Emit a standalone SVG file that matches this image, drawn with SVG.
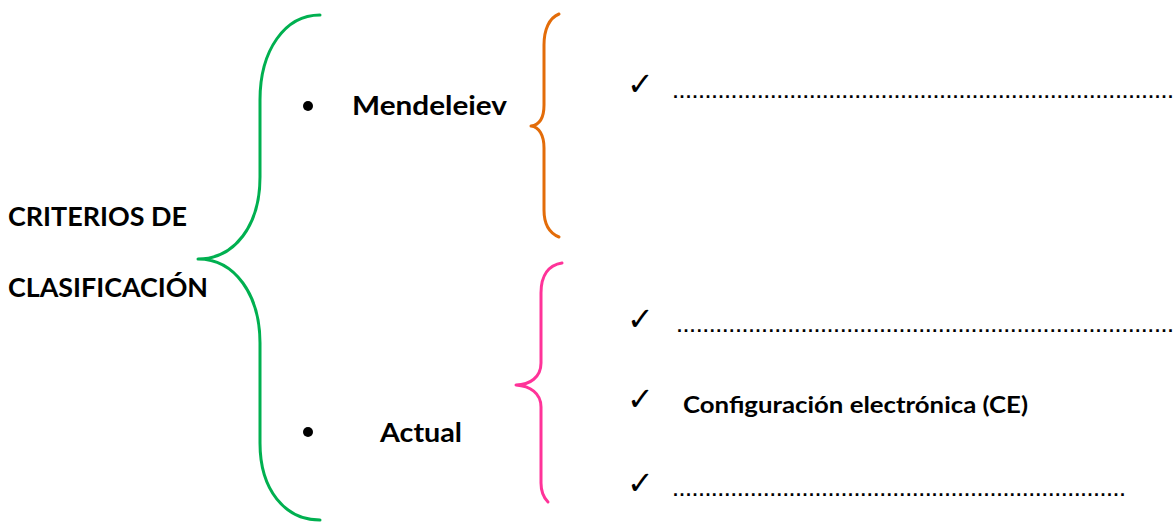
<svg xmlns="http://www.w3.org/2000/svg" width="1176" height="524" viewBox="0 0 1176 524">
<style>
.t{font-family:Lato,"Open Sans","Liberation Sans",sans-serif;font-weight:bold;fill:#000}
.big{font-size:26px}
.mid{font-size:23px}
.dots{font-family:"Liberation Sans",Arial,sans-serif;font-weight:bold;font-size:18px;fill:#000}
.chk{font-family:"DejaVu Sans",sans-serif;font-size:32px;fill:#000}
.br{fill:none;stroke-width:3;stroke-linecap:round;stroke-linejoin:round}
</style>
<rect width="1176" height="524" fill="#fff"/>
<g id="connectors">
<path class="br" stroke="#00B050" d="M320,15 C285,15 260,50 260,100 L260,177 C260,225 235,259 198,259 C235,259 260,295 260,343 L260,443 C260,490 285,520 320,520"/>
<path class="br" stroke="#E36C09" d="M559,14 C549,18 544,30 544,45 L544,105 C544,118 539,125 531,126 C539,127 544,135 544,148 L544,210 C544,225 549,233 559,237"/>
<path class="br" stroke="#FF3399" d="M562,263 C549,265 541,275 541,293 L541,363 C541,377 530,385 516,385 C530,386 541,393 541,407 L541,483 C541,492 544,498 548,502"/>
</g>
<g id="root">
<text class="t big" x="8" y="226" textLength="179" lengthAdjust="spacingAndGlyphs">CRITERIOS DE</text>
<text class="t big" x="8" y="297" textLength="200" lengthAdjust="spacingAndGlyphs">CLASIFICACIÓN</text>
</g>
<g id="mendeleiev">
<circle cx="308" cy="106" r="5" fill="#000"/>
<text class="t big" x="352" y="115" textLength="155" lengthAdjust="spacingAndGlyphs">Mendeleiev</text>
</g>
<g id="actual">
<circle cx="308" cy="432" r="5" fill="#000"/>
<text class="t big" x="380" y="442" textLength="82" lengthAdjust="spacingAndGlyphs">Actual</text>
</g>
<g id="item1">
<text class="chk" x="627" y="95" font-weight="bold">✓</text>
<text class="dots" x="673" y="98" textLength="500" lengthAdjust="spacing">.............................................................................</text>
</g>
<g id="item2">
<text class="chk" x="627" y="330" font-weight="bold">✓</text>
<text class="dots" x="677" y="332" textLength="496" lengthAdjust="spacing">............................................................................</text>
</g>
<g id="item3">
<text class="chk" x="627" y="410">✓</text>
<text class="t mid" x="683" y="413" textLength="345" lengthAdjust="spacingAndGlyphs">Configuración electrónica (CE)</text>
</g>
<g id="item4">
<text class="chk" x="627" y="494">✓</text>
<text class="dots" x="673" y="496" textLength="452" lengthAdjust="spacing">......................................................................</text>
</g>
</svg>
